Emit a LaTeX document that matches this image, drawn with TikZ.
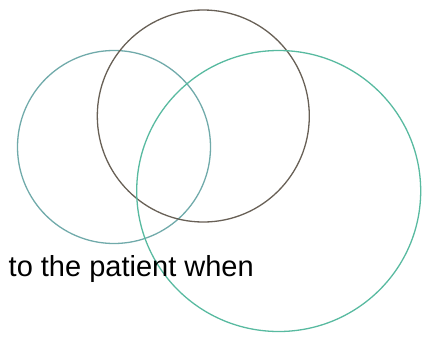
\documentclass[tikz,border=0pt]{standalone}
\usepackage{fontspec}
\setmainfont{Liberation Sans}
\usepackage{xcolor}
\usetikzlibrary{shapes.geometric}
\definecolor{ringA}{RGB}{112,170,170}
\definecolor{ringB}{RGB}{104,96,86}
\definecolor{ringC}{RGB}{88,186,160}
\tikzset{
  ring/.style={
    circle, line width=1.3pt, inner sep=0pt, fill=none
  },
  oval/.style={
    ellipse, line width=1.3pt, inner sep=0pt, fill=none
  },
  caption/.style={
    font=\fontsize{29}{34}\selectfont, text=black, inner sep=0pt
  },
}

\begin{document}
\begin{tikzpicture}[x=1pt, y=-1pt]

\useasboundingbox (0, 0) rectangle (425, 338);

% three overlapping rings
\node[ring, draw=ringA, minimum size=193pt] (left)  at (114, 147) {};
\node[ring, draw=ringB, minimum size=212pt] (top)   at (203.3, 116) {};
\node[oval, draw=ringC, minimum width=284pt,
      minimum height=281pt]                (right) at (278.7, 191) {};

% text on top
\node[caption, anchor=base west] (words) at (8.5, 276.5) {to the patient when};

\end{tikzpicture}
\end{document}
